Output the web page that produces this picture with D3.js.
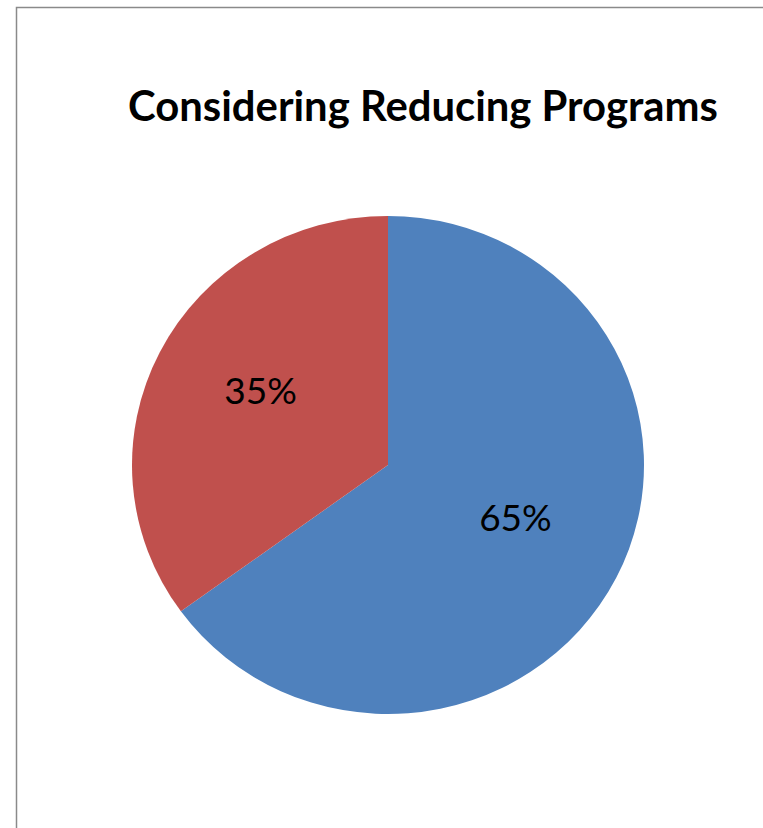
<!DOCTYPE html>
<html>
<head>
<meta charset="utf-8">
<script src="https://cdn.jsdelivr.net/npm/d3@7"></script>
<style>
  html, body { margin: 0; padding: 0; background: #fff; }
  svg { display: block; }
</style>
</head>
<body>
<svg id="chart" width="763" height="828"></svg>
<script>
// Chart data
const title = "Considering Reducing Programs";
const categories = ["Yes", "No"];
const values = [65, 35];
const labels = ["65%", "35%"];
const colors = ["#4F81BD", "#C0504D"];

const W = 763, H = 828;
const cx = 388, cy = 465;
const rx = 256, ry = 249;          // plot area is slightly taller than wide
const labelR = 143;

const svg = d3.select("#chart");

// chart area frame (runs past the right/bottom of the window)
svg.append("rect")
  .attr("x", 16.5).attr("y", 7.5)
  .attr("width", W + 20).attr("height", H + 20)
  .attr("fill", "#fff")
  .attr("stroke", "#8a8a8a")
  .attr("stroke-width", 1.5);

// title, sized to fill its band
const t = svg.append("text")
  .attr("x", 423).attr("y", 121)
  .attr("text-anchor", "middle")
  .attr("font-family", "Lato, 'Open Sans', sans-serif")
  .attr("font-weight", "bold")
  .attr("font-size", 40)
  .attr("fill", "#000")
  .text(title);
const tw = t.node().getComputedTextLength();
t.attr("font-size", 40 * 590 / tw);

const pie = d3.pie().sort(null).value(d => d)
  .startAngle(0).endAngle(2 * Math.PI);
const arcs = pie(values);
const arc = d3.arc().innerRadius(0).outerRadius(rx);
const labelArc = d3.arc().innerRadius(labelR).outerRadius(labelR);

const g = svg.append("g")
  .attr("transform", `translate(${cx},${cy}) scale(1,${ry / rx})`);

g.selectAll("path.slice")
  .data(arcs)
  .join("path")
  .attr("class", "slice")
  .attr("d", arc)
  .attr("fill", (d, i) => colors[i]);

// percentage labels
svg.selectAll("text.lbl")
  .data(arcs)
  .join("text")
  .attr("class", "lbl")
  .attr("transform", d => {
    const [x, y] = labelArc.centroid(d);
    return `translate(${cx + x},${cy + y * ry / rx})`;
  })
  .attr("text-anchor", "middle")
  .attr("dy", "0.07em")
  .attr("font-family", "Lato, 'Open Sans', sans-serif")
  .attr("font-size", 37)
  .attr("fill", "#000")
  .text((d, i) => labels[i]);
</script>
</body>
</html>
